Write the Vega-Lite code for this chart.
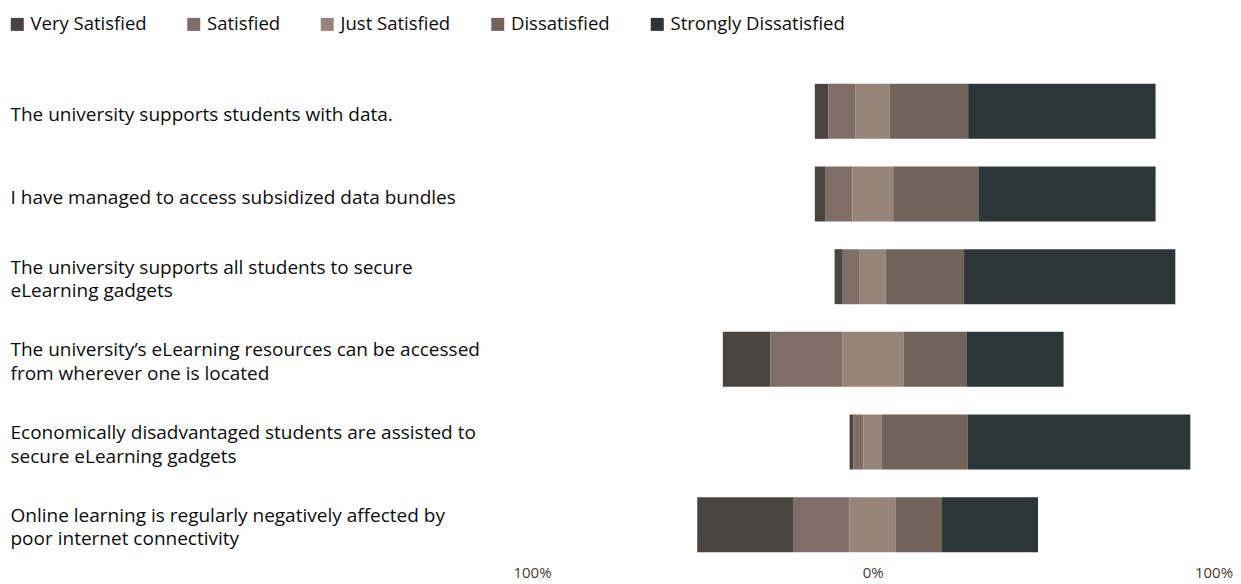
{
  "$schema": "https://vega.github.io/schema/vega-lite/v6.json",
  "width": 681.5,
  "height": 496,
  "autosize": {"type": "none"},
  "padding": {"left": 532, "top": 70, "right": 27.5, "bottom": 18},
  "background": "white",
  "config": {
    "view": {"stroke": null},
    "font": "Open Sans"
  },
  "data": {
    "values": [
      {"qi": 1, "q": "The university supports students with data.", "Very Satisfied": 4, "Satisfied": 8, "Just Satisfied": 10, "Dissatisfied": 23, "Strongly Dissatisfied": 55},
      {"qi": 2, "q": "I have managed to access subsidized data bundles", "Very Satisfied": 3, "Satisfied": 8, "Just Satisfied": 12, "Dissatisfied": 25, "Strongly Dissatisfied": 52},
      {"qi": 3, "q": "The university supports all students to secure\neLearning gadgets", "Very Satisfied": 2.4, "Satisfied": 5, "Just Satisfied": 7.6, "Dissatisfied": 23, "Strongly Dissatisfied": 62},
      {"qi": 4, "q": "The university’s eLearning resources can be accessed\nfrom wherever one is located", "Very Satisfied": 14, "Satisfied": 21, "Just Satisfied": 18, "Dissatisfied": 18.5, "Strongly Dissatisfied": 28.5},
      {"qi": 5, "q": "Economically disadvantaged students are assisted to\nsecure eLearning gadgets", "Very Satisfied": 1.1, "Satisfied": 3, "Just Satisfied": 5.4, "Dissatisfied": 25.2, "Strongly Dissatisfied": 65.3},
      {"qi": 6, "q": "Online learning is regularly negatively affected by\npoor internet connectivity", "Very Satisfied": 28.3, "Satisfied": 16.4, "Just Satisfied": 13.6, "Dissatisfied": 13.5, "Strongly Dissatisfied": 28.2}
    ]
  },
  "transform": [
    {"fold": ["Very Satisfied", "Satisfied", "Just Satisfied", "Dissatisfied", "Strongly Dissatisfied"], "as": ["rating", "pct"]},
    {"calculate": "indexof(['Very Satisfied','Satisfied','Just Satisfied','Dissatisfied','Strongly Dissatisfied'], datum.rating)", "as": "k"},
    {"calculate": "datum.k < 2 ? datum.pct : (datum.k == 2 ? datum.pct / 2 : 0)", "as": "lead"},
    {"joinaggregate": [{"op": "sum", "field": "lead", "as": "offset"}], "groupby": ["q"]},
    {"stack": "pct", "groupby": ["q"], "sort": [{"field": "k", "order": "ascending"}], "as": ["s0", "s1"]},
    {"calculate": "datum.s0 - datum.offset", "as": "x0"},
    {"calculate": "datum.s1 - datum.offset", "as": "x1"}
  ],
  "mark": {"type": "bar"},
  "encoding": {
    "y": {
      "field": "q",
      "type": "nominal",
      "sort": {"field": "qi", "op": "min", "order": "ascending"},
      "scale": {"paddingInner": 0.335, "paddingOuter": 0.1675},
      "axis": {
        "title": null,
        "domain": false,
        "ticks": false,
        "tickSize": 0,
        "labelAlign": "left",
        "labelBaseline": "alphabetic",
        "labelPadding": 522,
        "labelFontSize": 19,
        "labelFontWeight": 500,
        "labelColor": "#0d0d0d",
        "labelLineHeight": 23.5,
        "labelLimit": 0,
        "labelOffset": {"condition": {"test": "indexof(datum.label, '\\n') >= 0", "value": -3}, "value": 10},
        "labelExpr": "split(datum.label, '\\n')"
      }
    },
    "x": {
      "field": "x0",
      "type": "quantitative",
      "scale": {"domain": [-100, 100], "nice": false},
      "axis": {
        "title": null,
        "values": [-100, 0, 100],
        "labelExpr": "abs(datum.value) + '%'",
        "domain": false,
        "ticks": false,
        "grid": false,
        "labelBaseline": "alphabetic",
        "labelPadding": 11,
        "labelFontSize": 15,
        "labelColor": "#4a3a33",
        "labelFlush": false
      }
    },
    "x2": {"field": "x1"},
    "color": {
      "field": "rating",
      "type": "nominal",
      "scale": {
        "domain": ["Very Satisfied", "Satisfied", "Just Satisfied", "Dissatisfied", "Strongly Dissatisfied"],
        "range": ["#4a4441", "#7f6e66", "#968479", "#71625a", "#2c3537"]
      },
      "legend": {
        "title": null,
        "orient": "none",
        "direction": "horizontal",
        "columns": 5,
        "legendX": -524,
        "legendY": -55,
        "symbolType": "square",
        "symbolSize": 169,
        "symbolStrokeWidth": 0,
        "labelFontSize": 18.5,
        "labelFontWeight": 500,
        "labelColor": "#0d0d0d",
        "labelOffset": 4,
        "columnPadding": 37.5,
        "labelLimit": 0
      }
    }
  }
}
